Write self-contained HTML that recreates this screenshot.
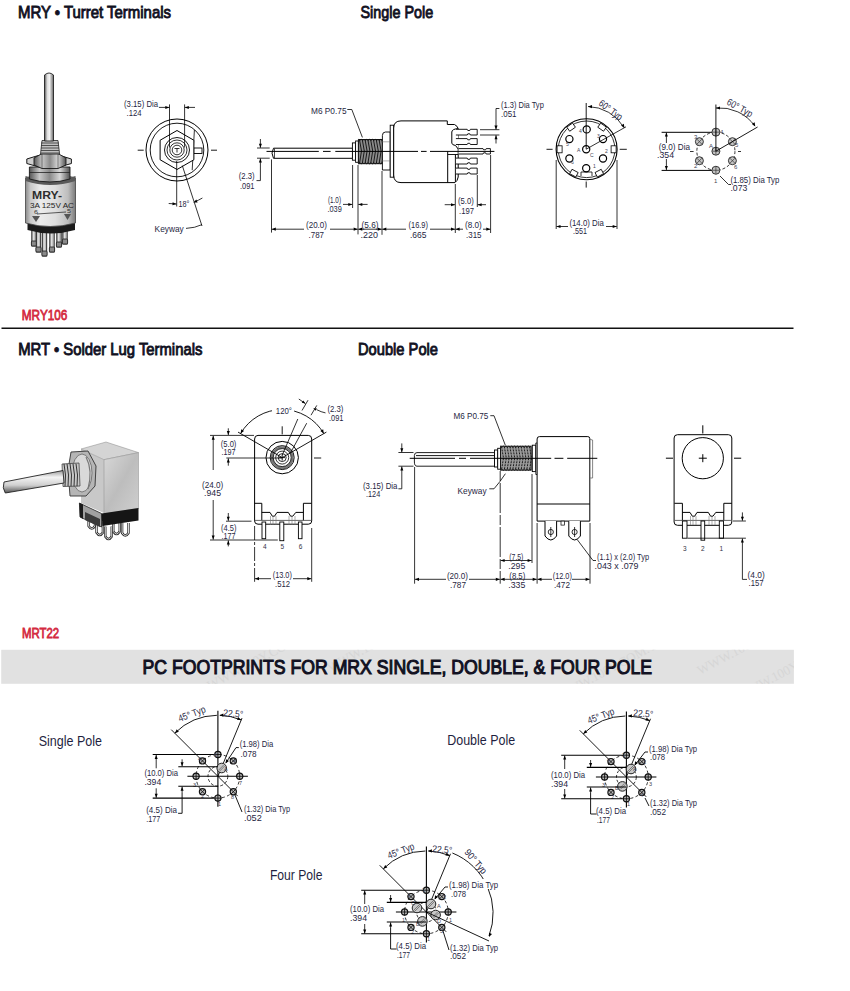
<!DOCTYPE html>
<html><head><meta charset="utf-8"><style>
html,body{margin:0;padding:0;background:#fff;width:850px;height:991px;overflow:hidden}
svg{display:block;font-family:"Liberation Sans",sans-serif}
</style></head><body>
<svg width="850" height="991" viewBox="0 0 850 991">
<defs>
<linearGradient id="cyl" x1="0" x2="1" y1="0" y2="0">
<stop offset="0" stop-color="#8a8a8a"/><stop offset="0.1" stop-color="#c8c8c8"/><stop offset="0.3" stop-color="#ececec"/><stop offset="0.6" stop-color="#dedede"/><stop offset="0.85" stop-color="#bdbdbd"/><stop offset="1" stop-color="#7a7a7a"/>
</linearGradient>
<linearGradient id="shaft" x1="0" x2="1" y1="0" y2="0">
<stop offset="0" stop-color="#555"/><stop offset="0.3" stop-color="#ddd"/><stop offset="0.55" stop-color="#f4f4f4"/><stop offset="1" stop-color="#666"/>
</linearGradient>
<linearGradient id="nut" x1="0" x2="1" y1="0" y2="0">
<stop offset="0" stop-color="#555"/><stop offset="0.25" stop-color="#c8c8c8"/><stop offset="0.5" stop-color="#8a8a8a"/><stop offset="0.75" stop-color="#d8d8d8"/><stop offset="1" stop-color="#505050"/>
</linearGradient>
<linearGradient id="box" x1="0" x2="1" y1="0" y2="1">
<stop offset="0" stop-color="#d8d8d8"/><stop offset="0.5" stop-color="#bdbdbd"/><stop offset="1" stop-color="#cfcfcf"/>
</linearGradient>
<linearGradient id="shaft2" x1="0" x2="0" y1="0" y2="1">
<stop offset="0" stop-color="#999"/><stop offset="0.3" stop-color="#f4f4f4"/><stop offset="0.65" stop-color="#d0d0d0"/><stop offset="1" stop-color="#555"/>
</linearGradient>
</defs>
<rect x="31.8" y="230" width="4.4" height="16" rx="0" stroke="#1a1a1a" stroke-width="0.9" fill="#bdbdbd"/>
<line x1="33.7" y1="230" x2="33.7" y2="245" stroke="#f0f0f0" stroke-width="0.8"/>
<rect x="31.4" y="241" width="5.2" height="5" rx="1" stroke="#1a1a1a" stroke-width="0.8" fill="#8a8a8a"/>
<rect x="36.3" y="230" width="4.4" height="22" rx="0" stroke="#1a1a1a" stroke-width="0.9" fill="#bdbdbd"/>
<line x1="38.2" y1="230" x2="38.2" y2="251" stroke="#f0f0f0" stroke-width="0.8"/>
<rect x="35.9" y="247" width="5.2" height="5" rx="1" stroke="#1a1a1a" stroke-width="0.8" fill="#8a8a8a"/>
<rect x="42.3" y="230" width="4.4" height="26" rx="0" stroke="#1a1a1a" stroke-width="0.9" fill="#bdbdbd"/>
<line x1="44.2" y1="230" x2="44.2" y2="255" stroke="#f0f0f0" stroke-width="0.8"/>
<rect x="41.9" y="251" width="5.2" height="5" rx="1" stroke="#1a1a1a" stroke-width="0.8" fill="#8a8a8a"/>
<rect x="49.8" y="230" width="4.4" height="22" rx="0" stroke="#1a1a1a" stroke-width="0.9" fill="#bdbdbd"/>
<line x1="51.7" y1="230" x2="51.7" y2="251" stroke="#f0f0f0" stroke-width="0.8"/>
<rect x="49.4" y="247" width="5.2" height="5" rx="1" stroke="#1a1a1a" stroke-width="0.8" fill="#8a8a8a"/>
<rect x="56.8" y="230" width="4.4" height="17" rx="0" stroke="#1a1a1a" stroke-width="0.9" fill="#bdbdbd"/>
<line x1="58.7" y1="230" x2="58.7" y2="246" stroke="#f0f0f0" stroke-width="0.8"/>
<rect x="56.4" y="242" width="5.2" height="5" rx="1" stroke="#1a1a1a" stroke-width="0.8" fill="#8a8a8a"/>
<rect x="62.8" y="229" width="4.4" height="15" rx="0" stroke="#1a1a1a" stroke-width="0.9" fill="#bdbdbd"/>
<line x1="64.7" y1="229" x2="64.7" y2="243" stroke="#f0f0f0" stroke-width="0.8"/>
<rect x="62.4" y="239" width="5.2" height="5" rx="1" stroke="#1a1a1a" stroke-width="0.8" fill="#8a8a8a"/>
<path d="M27.5,221 L75,221 L75,230 Q51,237 27.5,230 Z" fill="#1a1a1a"/>
<path d="M25.5,178 Q50,170 75.5,178 L75.5,223 Q50,230 25.5,223 Z" fill="url(#cyl)" stroke="#444" stroke-width="0.8"/>
<path d="M25.5,176 Q50,184 75.5,176 L75.5,181 Q50,189 25.5,181 Z" fill="#5a5a5a"/>
<text x="32" y="198.5" font-size="10.5" font-weight="bold" fill="#2e2e2e" text-anchor="start" textLength="30" lengthAdjust="spacingAndGlyphs">MRY-</text>
<text x="30" y="207.5" font-size="6.5" font-weight="normal" fill="#1e1e1e" text-anchor="start" textLength="44" lengthAdjust="spacingAndGlyphs">3A 125V AC</text>
<text x="34" y="214" font-size="6" font-weight="normal" fill="#333" text-anchor="start" textLength="4" lengthAdjust="spacingAndGlyphs">6</text>
<text x="67" y="213" font-size="6" font-weight="normal" fill="#333" text-anchor="start" textLength="4" lengthAdjust="spacingAndGlyphs">5</text>
<line x1="37" y1="214" x2="66" y2="212" stroke="#333" stroke-width="0.8"/>
<path d="M32,216 L40,216 L36,222 Z" fill="#555"/><path d="M64,214 L71,214 L67.5,220 Z" fill="#555"/>
<path d="M29.4,167 L70,167 L70,179 Q50,185 29.4,179 Z" fill="url(#nut)" stroke="#1a1a1a" stroke-width="0.9"/>
<line x1="29.4" y1="172.5" x2="70" y2="172.5" stroke="#222" stroke-width="0.8"/>
<path d="M26.8,159 Q49,150 71.4,159 L71.4,163.5 Q49,172 26.8,163.5 Z" fill="#cfcfcf" stroke="#1a1a1a" stroke-width="1"/>
<path d="M34,158 L42,153.6 L58,153.6 L66,158 L66,165 L58,168.5 L42,168.5 L34,165 Z" fill="url(#nut)" stroke="#1a1a1a" stroke-width="0.9"/>
<line x1="42" y1="153.8" x2="42" y2="168.3" stroke="#333" stroke-width="0.6"/>
<line x1="58" y1="153.8" x2="58" y2="168.3" stroke="#333" stroke-width="0.6"/>
<path d="M42,140.5 L58,140.5 L59.6,154 L40.5,154 Z" fill="#c0c0c0" stroke="#222" stroke-width="0.8"/>
<line x1="41" y1="143" x2="59" y2="143" stroke="#333" stroke-width="0.8"/>
<line x1="41" y1="145.5" x2="59" y2="145.5" stroke="#333" stroke-width="0.8"/>
<line x1="41" y1="148" x2="59" y2="148" stroke="#333" stroke-width="0.8"/>
<line x1="41" y1="150.5" x2="59" y2="150.5" stroke="#333" stroke-width="0.8"/>
<line x1="41" y1="153" x2="59" y2="153" stroke="#333" stroke-width="0.8"/>
<path d="M44.5,75 Q49,71 53.5,75 L53.5,141 L44.5,141 Z" fill="url(#shaft)" stroke="#222" stroke-width="0.9"/>
<circle cx="177" cy="150" r="31" stroke="#000" stroke-width="1" fill="none"/>
<circle cx="177" cy="150" r="26.8" stroke="#000" stroke-width="0.9" fill="none"/>
<rect x="193.7" y="148" width="8.3" height="5.5" rx="0" stroke="#000" stroke-width="0.9" fill="#fff"/>
<path d="M194.4,130 L192.2,170.2" stroke="#000" stroke-width="0.8" fill="none"/>
<path d="M177.00,130.50 L160.11,140.25 L160.11,159.75 L177.00,169.50 L193.89,159.75 L193.89,140.25 Z" stroke="#000" stroke-width="1" fill="#fff"/>
<circle cx="177" cy="150" r="12.5" stroke="#000" stroke-width="0.9" fill="none"/>
<circle cx="177" cy="150" r="10" stroke="#000" stroke-width="0.8" fill="none"/>
<circle cx="177" cy="150" r="7.2" stroke="#000" stroke-width="0.8" fill="none"/>
<circle cx="177" cy="150" r="4.8" stroke="#000" stroke-width="0.8" fill="none"/>
<path d="M174.5,148.5 L179.5,148.5 M177,148.5 L177,152.5" stroke="#000" stroke-width="0.8" fill="none"/>
<line x1="137.7" y1="150.2" x2="143.7" y2="150.2" stroke="#000" stroke-width="0.9"/>
<line x1="211" y1="150.2" x2="217" y2="150.2" stroke="#000" stroke-width="0.9"/>
<line x1="169.5" y1="104.4" x2="169.5" y2="147.5" stroke="#000" stroke-width="0.8"/>
<line x1="184.6" y1="104.4" x2="184.6" y2="147.5" stroke="#000" stroke-width="0.8"/>
<line x1="158.9" y1="107.4" x2="169.3" y2="107.4" stroke="#000" stroke-width="0.8"/>
<path d="M169.30,107.40 L165.30,108.90 L165.30,105.90 Z" fill="#000"/>
<line x1="195" y1="107.4" x2="184.8" y2="107.4" stroke="#000" stroke-width="0.8"/>
<path d="M184.80,107.40 L188.80,105.90 L188.80,108.90 Z" fill="#000"/>
<text x="124" y="107.4" font-size="9.8" font-weight="normal" fill="#1f1f3f" text-anchor="start" textLength="34" lengthAdjust="spacingAndGlyphs">(3.15) Dia</text>
<text x="126.5" y="115.7" font-size="9.8" font-weight="normal" fill="#1f1f3f" text-anchor="start" textLength="15" lengthAdjust="spacingAndGlyphs">.124</text>
<line x1="176.7" y1="161" x2="176.7" y2="206.5" stroke="#000" stroke-width="0.8"/>
<line x1="182.3" y1="165.6" x2="202" y2="226" stroke="#000" stroke-width="0.8"/>
<line x1="168.7" y1="203.5" x2="176.5" y2="204" stroke="#000" stroke-width="0.8"/>
<path d="M176.50,204.00 L172.41,205.24 L172.60,202.25 Z" fill="#000"/>
<text x="178.5" y="207" font-size="9" font-weight="normal" fill="#1f1f3f" text-anchor="start" textLength="11" lengthAdjust="spacingAndGlyphs">18°</text>
<path d="M202.4,198 Q198,200.5 195.5,201.5" stroke="#000" stroke-width="0.8" fill="none"/>
<path d="M193.30,202.60 L196.33,199.54 L197.61,202.48 Z" fill="#000"/>
<text x="154.6" y="232.2" font-size="9.8" font-weight="normal" fill="#1f1f3f" text-anchor="start" textLength="29.2" lengthAdjust="spacingAndGlyphs">Keyway</text>
<path d="M186,228.4 Q195,228 202,224.6" stroke="#000" stroke-width="0.8" fill="none"/>
<path d="M273.5,148.2 L352.6,148.2 L352.6,158.3 L273.5,158.3 Q270.5,153 273.5,148.2 Z" stroke="#000" stroke-width="1" fill="#fff"/>
<line x1="274.5" y1="148.7" x2="274.5" y2="158" stroke="#000" stroke-width="0.7"/>
<rect x="352.4" y="142.9" width="3.2" height="17.3" rx="0" stroke="#000" stroke-width="0.9" fill="#fff"/>
<rect x="355.6" y="141" width="2.8" height="21.3" rx="0" stroke="#000" stroke-width="0.9" fill="#fff"/>
<path d="M358.4,139.5 L383.5,139.5 L383.5,163.7 L358.4,163.7 Z" fill="#8a8a8a" stroke="#111" stroke-width="1"/>
<path d="M359.5,139.8 L361.5,151 L359.5,163.4" stroke="#1a1a1a" stroke-width="1" fill="none"/>
<path d="M362.3,139.8 L364.3,151 L362.3,163.4" stroke="#1a1a1a" stroke-width="1" fill="none"/>
<path d="M365.1,139.8 L367.1,151 L365.1,163.4" stroke="#1a1a1a" stroke-width="1" fill="none"/>
<path d="M367.9,139.8 L369.9,151 L367.9,163.4" stroke="#1a1a1a" stroke-width="1" fill="none"/>
<path d="M370.7,139.8 L372.7,151 L370.7,163.4" stroke="#1a1a1a" stroke-width="1" fill="none"/>
<path d="M373.5,139.8 L375.5,151 L373.5,163.4" stroke="#1a1a1a" stroke-width="1" fill="none"/>
<path d="M376.3,139.8 L378.3,151 L376.3,163.4" stroke="#1a1a1a" stroke-width="1" fill="none"/>
<path d="M379.1,139.8 L381.1,151 L379.1,163.4" stroke="#1a1a1a" stroke-width="1" fill="none"/>
<path d="M381.9,139.8 L383.9,151 L381.9,163.4" stroke="#1a1a1a" stroke-width="1" fill="none"/>
<path d="M358.4,139.3 L358.4,139.3 L359.8,140.6 L361.2,139.3 L362.6,140.6 L364.0,139.3 L365.4,140.6 L366.8,139.3 L368.2,140.6 L369.6,139.3 L371.0,140.6 L372.4,139.3 L373.8,140.6 L375.2,139.3 L376.6,140.6 L378.0,139.3 L379.4,140.6 L380.8,139.3 L382.2,140.6 L383.6,139.3" stroke="#111" stroke-width="0.8" fill="none"/>
<path d="M358.4,163.9 L358.4,163.9 L359.8,162.6 L361.2,163.9 L362.6,162.6 L364.0,163.9 L365.4,162.6 L366.8,163.9 L368.2,162.6 L369.6,163.9 L371.0,162.6 L372.4,163.9 L373.8,162.6 L375.2,163.9 L376.6,162.6 L378.0,163.9 L379.4,162.6 L380.8,163.9 L382.2,162.6 L383.6,163.9" stroke="#111" stroke-width="0.8" fill="none"/>
<path d="M385.5,132 L390.2,132 L390.2,170 L382.4,170 L382.4,135.5 Q382.4,132 385.5,132 Z" stroke="#000" stroke-width="0.9" fill="#fff"/>
<line x1="382.6" y1="141.8" x2="390" y2="141.8" stroke="#999" stroke-width="0.8"/>
<line x1="382.6" y1="160.9" x2="390" y2="160.9" stroke="#999" stroke-width="0.8"/>
<rect x="390.2" y="125.2" width="3.5" height="52" rx="0" stroke="#000" stroke-width="0.9" fill="#fff"/>
<path d="M401,120.9 L447.3,120.9 L447.3,124.5 L454.5,124.5 Q457.5,126 458.2,128.6 L458.2,177 Q457.5,181 455,182.6 L401,182.6 Q393.7,182.6 393.7,175 L393.7,128 Q393.7,120.9 401,120.9 Z" stroke="#000" stroke-width="1" fill="#fff"/>
<line x1="447.7" y1="151.3" x2="447.7" y2="182.6" stroke="#000" stroke-width="1"/>
<line x1="455.4" y1="154.5" x2="455.4" y2="182" stroke="#000" stroke-width="1"/>
<line x1="447.7" y1="154.5" x2="458" y2="154.5" stroke="#000" stroke-width="0.9"/>
<path d="M458.2,128.6 Q452,129 451.8,132 L451.8,143.1 Q452,145 455.5,145.5 L458.6,149.5" stroke="#000" stroke-width="1" fill="#fff"/>
<path d="M455.9,129.3 L467.2,129.3 L467.8,130.5 L469.8,130.5 L470.4,129.3 L477.2,129.3 L477.2,135 L470.4,135 L469.8,133.8 L467.8,133.8 L467.2,135 L455.9,135" stroke="#000" stroke-width="0.9" fill="#fff"/>
<path d="M455.9,138.6 L467.2,138.6 L467.8,139.79999999999998 L469.8,139.79999999999998 L470.4,138.6 L477.2,138.6 L477.2,144.5 L470.4,144.5 L469.8,143.3 L467.8,143.3 L467.2,144.5 L455.9,144.5" stroke="#000" stroke-width="0.9" fill="#fff"/>
<path d="M455.9,158.1 L467.2,158.1 L467.8,159.29999999999998 L469.8,159.29999999999998 L470.4,158.1 L477.2,158.1 L477.2,164 L470.4,164 L469.8,162.8 L467.8,162.8 L467.2,164 L455.9,164" stroke="#000" stroke-width="0.9" fill="#fff"/>
<path d="M455.9,168.1 L467.2,168.1 L467.8,169.29999999999998 L469.8,169.29999999999998 L470.4,168.1 L477.2,168.1 L477.2,174 L470.4,174 L469.8,172.8 L467.8,172.8 L467.2,174 L455.9,174" stroke="#000" stroke-width="0.9" fill="#fff"/>
<path d="M458.6,148.6 L483,148.6 L483.6,149.79999999999998 L485.6,149.79999999999998 L486.2,148.6 L490.4,148.6 L490.4,154 L486.2,154 L485.6,152.8 L483.6,152.8 L483,154 L458.6,154" stroke="#000" stroke-width="0.9" fill="#fff"/>
<line x1="266.5" y1="151.4" x2="318.8" y2="151.4" stroke="#000" stroke-width="1"/>
<line x1="323" y1="151.4" x2="330.6" y2="151.4" stroke="#000" stroke-width="1"/>
<line x1="335.3" y1="151.4" x2="418" y2="151.4" stroke="#000" stroke-width="1"/>
<line x1="421" y1="151.4" x2="426.6" y2="151.4" stroke="#000" stroke-width="1"/>
<line x1="430" y1="151.4" x2="494.4" y2="151.4" stroke="#000" stroke-width="1"/>
<line x1="257" y1="148" x2="269.7" y2="148" stroke="#000" stroke-width="0.8"/>
<line x1="257" y1="158.2" x2="269.7" y2="158.2" stroke="#000" stroke-width="0.8"/>
<line x1="260.4" y1="139" x2="260.4" y2="147.8" stroke="#000" stroke-width="0.8"/>
<path d="M260.40,147.80 L258.90,143.80 L261.90,143.80 Z" fill="#000"/>
<line x1="260.4" y1="172" x2="260.4" y2="158.4" stroke="#000" stroke-width="0.8"/>
<path d="M260.40,158.40 L261.90,162.40 L258.90,162.40 Z" fill="#000"/>
<path d="M260.4,172 L260.4,180.6 L256.5,180.6" stroke="#000" stroke-width="0.8" fill="none"/>
<text x="238.8" y="178.8" font-size="9.8" font-weight="normal" fill="#1f1f3f" text-anchor="start" textLength="15.9" lengthAdjust="spacingAndGlyphs">(2.3)</text>
<text x="240" y="188.5" font-size="9.8" font-weight="normal" fill="#1f1f3f" text-anchor="start" textLength="14.5" lengthAdjust="spacingAndGlyphs">.091</text>
<line x1="271.5" y1="159.4" x2="271.5" y2="232.6" stroke="#000" stroke-width="0.8"/>
<line x1="352.6" y1="165" x2="352.6" y2="208" stroke="#000" stroke-width="0.8"/>
<line x1="358" y1="165" x2="358" y2="234.4" stroke="#000" stroke-width="0.8"/>
<line x1="382" y1="171" x2="382" y2="234.8" stroke="#000" stroke-width="0.8"/>
<line x1="455.3" y1="184" x2="455.3" y2="233" stroke="#000" stroke-width="0.8"/>
<line x1="477.3" y1="175" x2="477.3" y2="207" stroke="#000" stroke-width="0.8"/>
<line x1="490.6" y1="155" x2="490.6" y2="233" stroke="#000" stroke-width="0.8"/>
<line x1="343" y1="204.4" x2="352.3" y2="204.4" stroke="#000" stroke-width="0.8"/>
<path d="M352.30,204.40 L348.30,205.90 L348.30,202.90 Z" fill="#000"/>
<line x1="367.6" y1="204.4" x2="358.3" y2="204.4" stroke="#000" stroke-width="0.8"/>
<path d="M358.30,204.40 L362.30,202.90 L362.30,205.90 Z" fill="#000"/>
<text x="328" y="203" font-size="9.8" font-weight="normal" fill="#1f1f3f" text-anchor="start" textLength="13" lengthAdjust="spacingAndGlyphs">(1.0)</text>
<text x="327.5" y="212.4" font-size="9.8" font-weight="normal" fill="#1f1f3f" text-anchor="start" textLength="14.3" lengthAdjust="spacingAndGlyphs">.039</text>
<line x1="271.8" y1="229.2" x2="304" y2="229.2" stroke="#000" stroke-width="0.8"/>
<line x1="330" y1="229.2" x2="357.7" y2="229.2" stroke="#000" stroke-width="0.8"/>
<path d="M271.80,229.20 L275.80,227.60 L275.80,230.80 Z" fill="#000"/>
<path d="M357.70,229.20 L353.70,230.80 L353.70,227.60 Z" fill="#000"/>
<line x1="358.3" y1="229.2" x2="358.3" y2="229.2" stroke="#000" stroke-width="0.8"/>
<line x1="358.3" y1="229.2" x2="381.7" y2="229.2" stroke="#000" stroke-width="0.8"/>
<path d="M358.30,229.20 L362.30,227.60 L362.30,230.80 Z" fill="#000"/>
<path d="M381.70,229.20 L377.70,230.80 L377.70,227.60 Z" fill="#000"/>
<line x1="382.3" y1="229.2" x2="406" y2="229.2" stroke="#000" stroke-width="0.8"/>
<line x1="430" y1="229.2" x2="455" y2="229.2" stroke="#000" stroke-width="0.8"/>
<path d="M382.30,229.20 L386.30,227.60 L386.30,230.80 Z" fill="#000"/>
<path d="M455.00,229.20 L451.00,230.80 L451.00,227.60 Z" fill="#000"/>
<line x1="455.6" y1="229.2" x2="463" y2="229.2" stroke="#000" stroke-width="0.8"/>
<line x1="483" y1="229.2" x2="490.3" y2="229.2" stroke="#000" stroke-width="0.8"/>
<path d="M455.60,229.20 L459.60,227.60 L459.60,230.80 Z" fill="#000"/>
<path d="M490.30,229.20 L486.30,230.80 L486.30,227.60 Z" fill="#000"/>
<text x="306" y="228" font-size="9.8" font-weight="normal" fill="#1f1f3f" text-anchor="start" textLength="21" lengthAdjust="spacingAndGlyphs">(20.0)</text>
<text x="308.5" y="238" font-size="9.8" font-weight="normal" fill="#1f1f3f" text-anchor="start" textLength="15.5" lengthAdjust="spacingAndGlyphs">.787</text>
<text x="361.5" y="228" font-size="9.8" font-weight="normal" fill="#1f1f3f" text-anchor="start" textLength="17" lengthAdjust="spacingAndGlyphs">(5.6)</text>
<text x="360.5" y="238" font-size="9.8" font-weight="normal" fill="#1f1f3f" text-anchor="start" textLength="17.5" lengthAdjust="spacingAndGlyphs">.220</text>
<text x="408.5" y="227.6" font-size="9.8" font-weight="normal" fill="#1f1f3f" text-anchor="start" textLength="19.5" lengthAdjust="spacingAndGlyphs">(16.9)</text>
<text x="410" y="238" font-size="9.8" font-weight="normal" fill="#1f1f3f" text-anchor="start" textLength="16.5" lengthAdjust="spacingAndGlyphs">.665</text>
<text x="465" y="227.6" font-size="9.8" font-weight="normal" fill="#1f1f3f" text-anchor="start" textLength="16.8" lengthAdjust="spacingAndGlyphs">(8.0)</text>
<text x="466" y="238" font-size="9.8" font-weight="normal" fill="#1f1f3f" text-anchor="start" textLength="15.5" lengthAdjust="spacingAndGlyphs">.315</text>
<line x1="444.7" y1="204.7" x2="455" y2="204.7" stroke="#000" stroke-width="0.8"/>
<path d="M455.00,204.70 L451.00,206.20 L451.00,203.20 Z" fill="#000"/>
<line x1="486" y1="204.7" x2="477.6" y2="204.7" stroke="#000" stroke-width="0.8"/>
<path d="M477.60,204.70 L481.60,203.20 L481.60,206.20 Z" fill="#000"/>
<text x="458" y="203.8" font-size="9.8" font-weight="normal" fill="#1f1f3f" text-anchor="start" textLength="15.8" lengthAdjust="spacingAndGlyphs">(5.0)</text>
<text x="459" y="213.5" font-size="9.8" font-weight="normal" fill="#1f1f3f" text-anchor="start" textLength="15" lengthAdjust="spacingAndGlyphs">.197</text>
<line x1="480" y1="129.7" x2="499.4" y2="129.7" stroke="#000" stroke-width="0.8"/>
<line x1="480" y1="135" x2="499.4" y2="135" stroke="#000" stroke-width="0.8"/>
<path d="M499.4,108.5 L496,108.5 L496,129.5" stroke="#000" stroke-width="0.8" fill="none"/>
<path d="M496.00,129.50 L494.40,125.50 L497.60,125.50 Z" fill="#000"/>
<line x1="496" y1="143.5" x2="496" y2="135.2" stroke="#000" stroke-width="0.8"/>
<path d="M496.00,135.20 L497.50,139.20 L494.50,139.20 Z" fill="#000"/>
<text x="501" y="108" font-size="9.8" font-weight="normal" fill="#1f1f3f" text-anchor="start" textLength="42.8" lengthAdjust="spacingAndGlyphs">(1.3) Dia Typ</text>
<text x="501" y="117" font-size="9.8" font-weight="normal" fill="#1f1f3f" text-anchor="start" textLength="15.5" lengthAdjust="spacingAndGlyphs">.051</text>
<text x="311" y="113.5" font-size="9.8" font-weight="normal" fill="#1f1f3f" text-anchor="start" textLength="35.5" lengthAdjust="spacingAndGlyphs">M6 P0.75</text>
<path d="M347.3,109.5 L351.8,109.5 L362.4,137.4" stroke="#000" stroke-width="0.8" fill="none"/>
<circle cx="586.6" cy="149.3" r="30.5" stroke="#000" stroke-width="1.1" fill="none"/>
<circle cx="586.6" cy="149.3" r="28.3" stroke="#000" stroke-width="0.8" fill="none"/>
<rect x="567.61" y="124.68" width="7" height="5" fill="#fff" stroke="#000" stroke-width="0.8" transform="rotate(-35 571.11 127.18)"/>
<rect x="598.59" y="124.68" width="7" height="5" fill="#fff" stroke="#000" stroke-width="0.8" transform="rotate(35 602.09 127.18)"/>
<rect x="556.10" y="146.80" width="7" height="5" fill="#fff" stroke="#000" stroke-width="0.8" transform="rotate(-90 559.60 149.30)"/>
<rect x="610.10" y="146.80" width="7" height="5" fill="#fff" stroke="#000" stroke-width="0.8" transform="rotate(90 613.60 149.30)"/>
<rect x="570.42" y="170.64" width="7" height="5" fill="#fff" stroke="#000" stroke-width="0.8" transform="rotate(-152 573.92 173.14)"/>
<rect x="595.78" y="170.64" width="7" height="5" fill="#fff" stroke="#000" stroke-width="0.8" transform="rotate(152 599.28 173.14)"/>
<circle cx="586.7" cy="129.4" r="3.6" stroke="#000" stroke-width="1.2" fill="#fff"/>
<circle cx="569.4" cy="139.1" r="3.6" stroke="#000" stroke-width="1.2" fill="#fff"/>
<circle cx="603" cy="139.1" r="3.6" stroke="#000" stroke-width="1.2" fill="#fff"/>
<circle cx="569.4" cy="158.5" r="3.6" stroke="#000" stroke-width="1.2" fill="#fff"/>
<circle cx="603" cy="158.5" r="3.6" stroke="#000" stroke-width="1.2" fill="#fff"/>
<circle cx="586.2" cy="168.2" r="3.6" stroke="#000" stroke-width="1.2" fill="#fff"/>
<circle cx="586.2" cy="149.2" r="3.6" stroke="#000" stroke-width="1.2" fill="#fff"/>
<path d="M581,176 L581,172 L592,172 L592,176" stroke="#000" stroke-width="0.8" fill="none"/>
<text x="579" y="133" font-size="5" font-weight="normal" fill="#445" text-anchor="start">4</text>
<text x="566" y="146" font-size="5" font-weight="normal" fill="#445" text-anchor="start">5</text>
<text x="597" y="138" font-size="5" font-weight="normal" fill="#445" text-anchor="start">3</text>
<text x="605" y="153" font-size="5" font-weight="normal" fill="#445" text-anchor="start">2</text>
<text x="571" y="164" font-size="5" font-weight="normal" fill="#445" text-anchor="start">6</text>
<text x="593" y="168" font-size="5" font-weight="normal" fill="#445" text-anchor="start">1</text>
<text x="577" y="152" font-size="5" font-weight="normal" fill="#445" text-anchor="start">A</text>
<text x="590" y="157" font-size="5" font-weight="normal" fill="#445" text-anchor="start">C</text>
<line x1="586.2" y1="103" x2="586.2" y2="149.2" stroke="#000" stroke-width="0.9"/>
<line x1="586.2" y1="149.2" x2="626" y2="126.8" stroke="#000" stroke-width="0.8"/>
<path d="M588,106.5 A43,43 0 0 1 624,127.6" stroke="#000" stroke-width="0.8" fill="none"/>
<path d="M588.00,106.50 L592.07,105.10 L591.92,108.30 Z" fill="#000"/>
<path d="M624.50,128.00 L621.07,125.39 L623.81,123.75 Z" fill="#000"/>
<text x="598" y="104.5" font-size="9.8" font-weight="normal" fill="#1f1f3f" text-anchor="start" textLength="27" lengthAdjust="spacingAndGlyphs" transform="rotate(37 598 104.5)">60° Typ</text>
<line x1="546.5" y1="149.3" x2="552.6" y2="149.3" stroke="#000" stroke-width="0.9"/>
<line x1="619.7" y1="149.3" x2="626.8" y2="149.3" stroke="#000" stroke-width="0.9"/>
<line x1="586.2" y1="181.5" x2="586.2" y2="187.6" stroke="#000" stroke-width="0.9"/>
<line x1="556.2" y1="160" x2="556.2" y2="229" stroke="#000" stroke-width="0.8"/>
<line x1="617" y1="160" x2="617" y2="229" stroke="#000" stroke-width="0.8"/>
<line x1="556.5" y1="226.5" x2="568" y2="226.5" stroke="#000" stroke-width="0.8"/>
<line x1="606" y1="226.5" x2="616.7" y2="226.5" stroke="#000" stroke-width="0.8"/>
<path d="M556.50,226.50 L560.50,224.90 L560.50,228.10 Z" fill="#000"/>
<path d="M616.70,226.50 L612.70,228.10 L612.70,224.90 Z" fill="#000"/>
<text x="569.4" y="225.6" font-size="9.8" font-weight="normal" fill="#1f1f3f" text-anchor="start" textLength="34.4" lengthAdjust="spacingAndGlyphs">(14.0) Dia</text>
<text x="573" y="234.4" font-size="9.8" font-weight="normal" fill="#1f1f3f" text-anchor="start" textLength="14" lengthAdjust="spacingAndGlyphs">.551</text>
<circle cx="715.9" cy="151.2" r="19.05" fill="none" stroke="#000" stroke-width="0.8" stroke-dasharray="3,2"/>
<line x1="661.6" y1="132.3" x2="715.9" y2="132.3" stroke="#000" stroke-width="1"/>
<line x1="661.6" y1="170.4" x2="715.9" y2="170.4" stroke="#000" stroke-width="1"/>
<circle cx="715.90" cy="132.15" r="4" fill="#c4c4c4" stroke="#222" stroke-width="0.9"/>
<path d="M712.40,132.15 L719.40,132.15 M715.90,128.65 L715.90,135.65" stroke="#333" stroke-width="0.7" fill="none"/>
<circle cx="732.40" cy="141.67" r="4" fill="#c4c4c4" stroke="#222" stroke-width="0.9"/>
<path d="M729.80,139.07 L735.00,144.27 M729.80,144.27 L735.00,139.07" stroke="#333" stroke-width="0.7" fill="none"/>
<circle cx="732.40" cy="160.72" r="4" fill="#c4c4c4" stroke="#222" stroke-width="0.9"/>
<path d="M729.80,158.12 L735.00,163.32 M729.80,163.32 L735.00,158.12" stroke="#333" stroke-width="0.7" fill="none"/>
<circle cx="715.90" cy="170.25" r="4" fill="#c4c4c4" stroke="#222" stroke-width="0.9"/>
<path d="M712.40,170.25 L719.40,170.25 M715.90,166.75 L715.90,173.75" stroke="#333" stroke-width="0.7" fill="none"/>
<circle cx="699.40" cy="160.72" r="4" fill="#c4c4c4" stroke="#222" stroke-width="0.9"/>
<path d="M696.80,158.12 L702.00,163.32 M696.80,163.32 L702.00,158.12" stroke="#333" stroke-width="0.7" fill="none"/>
<circle cx="699.40" cy="141.67" r="4" fill="#c4c4c4" stroke="#222" stroke-width="0.9"/>
<path d="M696.80,139.07 L702.00,144.27 M696.80,144.27 L702.00,139.07" stroke="#333" stroke-width="0.7" fill="none"/>
<circle cx="715.90" cy="151.20" r="4" fill="#c4c4c4" stroke="#222" stroke-width="0.9"/>
<path d="M712.40,151.20 L719.40,151.20 M715.90,147.70 L715.90,154.70" stroke="#333" stroke-width="0.7" fill="none"/>
<text x="720" y="134" font-size="6" font-weight="normal" fill="#445" text-anchor="start">4</text>
<text x="735" y="147" font-size="6" font-weight="normal" fill="#445" text-anchor="start">5</text>
<text x="734" y="169" font-size="6" font-weight="normal" fill="#445" text-anchor="start">6</text>
<text x="714" y="183" font-size="6" font-weight="normal" fill="#445" text-anchor="start">1</text>
<text x="694" y="168" font-size="6" font-weight="normal" fill="#445" text-anchor="start">2</text>
<text x="694" y="139" font-size="6" font-weight="normal" fill="#445" text-anchor="start">3</text>
<text x="709" y="148" font-size="6" font-weight="normal" fill="#445" text-anchor="start">A</text>
<line x1="715.9" y1="104.5" x2="715.9" y2="151.2" stroke="#000" stroke-width="0.9"/>
<line x1="715.9" y1="151.2" x2="757.6" y2="127" stroke="#000" stroke-width="0.9"/>
<path d="M716,108 A43,43 0 0 1 754.8,126" stroke="#000" stroke-width="0.8" fill="none"/>
<path d="M716.00,108.00 L720.00,106.40 L720.00,109.60 Z" fill="#000"/>
<path d="M755.30,126.60 L751.87,123.99 L754.61,122.35 Z" fill="#000"/>
<text x="726" y="104" font-size="9.8" font-weight="normal" fill="#1f1f3f" text-anchor="start" textLength="28" lengthAdjust="spacingAndGlyphs" transform="rotate(29 726 104)">60° Typ</text>
<line x1="666.4" y1="143" x2="666.4" y2="132.6" stroke="#000" stroke-width="0.8"/>
<path d="M666.40,132.60 L667.90,136.60 L664.90,136.60 Z" fill="#000"/>
<line x1="666.4" y1="159" x2="666.4" y2="170.1" stroke="#000" stroke-width="0.8"/>
<path d="M666.40,170.10 L664.90,166.10 L667.90,166.10 Z" fill="#000"/>
<text x="658.8" y="149.6" font-size="9.8" font-weight="normal" fill="#1f1f3f" text-anchor="start" textLength="31.2" lengthAdjust="spacingAndGlyphs">(9.0) Dia</text>
<text x="657" y="158" font-size="9.8" font-weight="normal" fill="#1f1f3f" text-anchor="start" textLength="17" lengthAdjust="spacingAndGlyphs">.354</text>
<line x1="690" y1="151.5" x2="693.6" y2="151.5" stroke="#000" stroke-width="0.8"/>
<line x1="738" y1="151.5" x2="741" y2="151.5" stroke="#000" stroke-width="0.8"/>
<text x="730.4" y="182.6" font-size="9.8" font-weight="normal" fill="#1f1f3f" text-anchor="start" textLength="49" lengthAdjust="spacingAndGlyphs">(1.85) Dia Typ</text>
<text x="730.4" y="191" font-size="9.8" font-weight="normal" fill="#1f1f3f" text-anchor="start" textLength="16.9" lengthAdjust="spacingAndGlyphs">.073</text>
<path d="M720,176 L728.5,184.5 L731,184.5" stroke="#000" stroke-width="0.8" fill="none"/>
<path d="M88.6,516 L88.6,526 Q91.8,531 95.0,526 L95.0,516" fill="none" stroke="#2a2a2a" stroke-width="2.4"/>
<path d="M88.6,516 L88.6,526 Q91.8,531 95.0,526 L95.0,516" fill="none" stroke="#d8d8d8" stroke-width="1"/>
<path d="M96.5,522.5 L96.5,532.5 Q99.7,537.5 102.9,532.5 L102.9,522.5" fill="none" stroke="#2a2a2a" stroke-width="2.4"/>
<path d="M96.5,522.5 L96.5,532.5 Q99.7,537.5 102.9,532.5 L102.9,522.5" fill="none" stroke="#d8d8d8" stroke-width="1"/>
<path d="M105.3,526.5 L105.3,536.5 Q108.5,541.5 111.7,536.5 L111.7,526.5" fill="none" stroke="#2a2a2a" stroke-width="2.4"/>
<path d="M105.3,526.5 L105.3,536.5 Q108.5,541.5 111.7,536.5 L111.7,526.5" fill="none" stroke="#d8d8d8" stroke-width="1"/>
<path d="M113.3,521.5 L113.3,531.5 Q116.5,536.5 119.7,531.5 L119.7,521.5" fill="none" stroke="#2a2a2a" stroke-width="2.4"/>
<path d="M113.3,521.5 L113.3,531.5 Q116.5,536.5 119.7,531.5 L119.7,521.5" fill="none" stroke="#d8d8d8" stroke-width="1"/>
<path d="M122.1,523 L122.1,533 Q125.3,538 128.5,533 L128.5,523" fill="none" stroke="#2a2a2a" stroke-width="2.4"/>
<path d="M122.1,523 L122.1,533 Q125.3,538 128.5,533 L128.5,523" fill="none" stroke="#d8d8d8" stroke-width="1"/>
<path d="M81,449 L104,459.7 L104,513 L81,503 Z" fill="#c8c8c8"/>
<path d="M79.4,503 L101.5,513.5 L101.5,527 L80,517 Z" fill="#a0a0a0" stroke="#222" stroke-width="0.8"/>
<path d="M79.4,503 L83,504.5 L83,519 L80,517 Z" fill="#1a1a1a"/>
<path d="M85,512 L100,519 L100,527 L85,520 Z" fill="#3a3a3a"/>
<path d="M81,449 L106,442 L138.5,452.6 L104,459.7 Z" fill="#d4d4d4" stroke="#888" stroke-width="0.5"/>
<path d="M104,459.7 L138.5,452.6 L138.5,508.5 L104,514 Z" fill="url(#box)" stroke="#999" stroke-width="0.6"/>
<path d="M101.5,513.5 L138.5,508 L138.5,520.6 L102.4,526 Z" fill="#151515"/>
<path d="M71,452 L88,451 L96,466 L95,486 L86,496 L70,496 L68,470 Z" fill="#b5b5b5" stroke="#333" stroke-width="0.9"/>
<ellipse cx="82" cy="473" rx="10" ry="19" fill="#d9d9d9" stroke="#555" stroke-width="0.7"/>
<path d="M86,457 Q93,470 88,489" fill="none" stroke="#777" stroke-width="1.2"/>
<path d="M62,464 L79,463 L80,486 L63,486.5 Z" fill="#c8c8c8" stroke="#333" stroke-width="0.7"/>
<path d="M64,463.8 Q66.5,475 65,486.3" stroke="#333" stroke-width="1" fill="none"/>
<path d="M67,463.8 Q69.5,475 68,486.3" stroke="#333" stroke-width="1" fill="none"/>
<path d="M70,463.8 Q72.5,475 71,486.3" stroke="#333" stroke-width="1" fill="none"/>
<path d="M73,463.8 Q75.5,475 74,486.3" stroke="#333" stroke-width="1" fill="none"/>
<path d="M76,463.8 Q78.5,475 77,486.3" stroke="#333" stroke-width="1" fill="none"/>
<path d="M4,482 L63,470.5 L64,483 L5.3,493 Q2,488 4,482 Z" fill="url(#shaft2)" stroke="#222" stroke-width="0.9"/>
<path d="M258,435.4 L308.3,435.4 Q311.7,435.4 311.7,439 L311.7,521 Q311.7,524.2 308.3,524.2 L258,524.2 Q254.6,524.2 254.6,521 L254.6,439 Q254.6,435.4 258,435.4 Z" stroke="#000" stroke-width="1" fill="#fff"/>
<path d="M254.6,503.3 L261.8,503.3 L261.8,520.4 M311.5,503.3 L303.4,503.3 L303.4,520.4" stroke="#000" stroke-width="1" fill="none"/>
<path d="M261.8,512.4 L270,512.4 L272.3,516.2 L274.5,516.2 L277,512.4 L288.3,512.4 L290.6,516.2 L292.8,516.2 L295.8,512.4 L303.4,512.4" stroke="#000" stroke-width="1" fill="none"/>
<line x1="254.6" y1="520.4" x2="311.5" y2="520.4" stroke="#555" stroke-width="0.9"/>
<path d="M270.5,516 L270.5,525 M273,516 L273,525 M276,516 L276,525 M289,516 L289,525 M292,516 L292,525 M295,516 L295,525" stroke="#777" stroke-width="0.6" fill="none"/>
<rect x="262" y="522" width="3.6999999999999886" height="16.700000000000045" rx="0" stroke="#000" stroke-width="0.9" fill="#fff"/>
<rect x="279.8" y="522" width="4.0" height="18.700000000000045" rx="0" stroke="#000" stroke-width="0.9" fill="#fff"/>
<rect x="298.4" y="522" width="3.6000000000000227" height="16.700000000000045" rx="0" stroke="#000" stroke-width="0.9" fill="#fff"/>
<text x="263" y="549" font-size="6.5" font-weight="normal" fill="#334" text-anchor="start">4</text>
<text x="280.5" y="549" font-size="6.5" font-weight="normal" fill="#334" text-anchor="start">5</text>
<text x="298.7" y="549" font-size="6.5" font-weight="normal" fill="#334" text-anchor="start">6</text>
<circle cx="282.2" cy="457.6" r="16.2" stroke="#000" stroke-width="1" fill="none"/>
<circle cx="282.2" cy="457.6" r="10.3" fill="none" stroke="#777" stroke-width="2.2"/>
<circle cx="282.2" cy="457.6" r="12" stroke="#000" stroke-width="0.9" fill="none"/>
<circle cx="282.2" cy="457.6" r="9" stroke="#000" stroke-width="0.8" fill="none"/>
<circle cx="282.2" cy="457.6" r="6.5" stroke="#000" stroke-width="0.8" fill="none"/>
<circle cx="282.2" cy="457.6" r="4" stroke="#000" stroke-width="0.8" fill="none"/>
<line x1="279.2" y1="457.6" x2="285.2" y2="457.6" stroke="#000" stroke-width="0.9"/>
<line x1="282.2" y1="454.6" x2="282.2" y2="460.6" stroke="#000" stroke-width="0.9"/>
<line x1="282.2" y1="457.6" x2="238.0" y2="432.1" stroke="#000" stroke-width="0.9"/>
<line x1="282.2" y1="457.6" x2="326.4" y2="432.1" stroke="#000" stroke-width="0.9"/>
<path d="M240.63,433.60 A48,48 0 0 1 323.77,433.60" stroke="#000" stroke-width="0.9" fill="none"/>
<path d="M240.63,433.60 L241.24,429.33 L244.01,430.93 Z" fill="#000"/>
<path d="M323.77,433.60 L320.39,430.93 L323.16,429.33 Z" fill="#000"/>
<rect x="272" y="404" width="22" height="12" fill="#fff"/>
<text x="275.8" y="414.2" font-size="9.8" font-weight="normal" fill="#1f1f3f" text-anchor="start" textLength="16.2" lengthAdjust="spacingAndGlyphs">120°</text>
<line x1="282.2" y1="455.2" x2="297.8" y2="419" stroke="#000" stroke-width="0.8"/>
<line x1="290.2" y1="453.4" x2="306.7" y2="423.2" stroke="#000" stroke-width="0.8"/>
<line x1="302" y1="410.5" x2="308" y2="400.2" stroke="#000" stroke-width="0.8"/>
<line x1="311" y1="415.2" x2="316.8" y2="405.4" stroke="#000" stroke-width="0.8"/>
<line x1="298.8" y1="399" x2="305.4" y2="403.6" stroke="#000" stroke-width="0.8"/>
<path d="M305.40,403.60 L301.79,402.67 L303.27,400.53 Z" fill="#000"/>
<path d="M325.5,412.9 Q321,412 317,409.8" stroke="#000" stroke-width="0.8" fill="none"/>
<path d="M313.20,408.20 L316.93,408.45 L315.86,410.82 Z" fill="#000"/>
<text x="327.4" y="412.4" font-size="9.8" font-weight="normal" fill="#1f1f3f" text-anchor="start" textLength="16" lengthAdjust="spacingAndGlyphs">(2.3)</text>
<text x="329" y="421" font-size="9.8" font-weight="normal" fill="#1f1f3f" text-anchor="start" textLength="14.4" lengthAdjust="spacingAndGlyphs">.091</text>
<line x1="282.2" y1="426.3" x2="282.2" y2="434.4" stroke="#000" stroke-width="0.9"/>
<line x1="314" y1="458" x2="321.2" y2="458" stroke="#000" stroke-width="0.9"/>
<line x1="210" y1="435.4" x2="254" y2="435.4" stroke="#000" stroke-width="0.8"/>
<line x1="226.3" y1="458" x2="282.2" y2="458" stroke="#000" stroke-width="0.8"/>
<line x1="210" y1="540" x2="277.8" y2="540" stroke="#000" stroke-width="0.8"/>
<line x1="226" y1="521.2" x2="251.5" y2="521.2" stroke="#000" stroke-width="0.8"/>
<line x1="213.2" y1="470" x2="213.2" y2="435.8" stroke="#000" stroke-width="0.8"/>
<path d="M213.20,435.80 L214.70,439.80 L211.70,439.80 Z" fill="#000"/>
<line x1="213.2" y1="500" x2="213.2" y2="539.6" stroke="#000" stroke-width="0.8"/>
<path d="M213.20,539.60 L211.70,535.60 L214.70,535.60 Z" fill="#000"/>
<line x1="228.3" y1="428.3" x2="228.3" y2="435" stroke="#000" stroke-width="0.8"/>
<path d="M228.30,435.00 L226.80,431.00 L229.80,431.00 Z" fill="#000"/>
<line x1="228.3" y1="465.7" x2="228.3" y2="458.4" stroke="#000" stroke-width="0.8"/>
<path d="M228.30,458.40 L229.80,462.40 L226.80,462.40 Z" fill="#000"/>
<line x1="228.3" y1="513" x2="228.3" y2="520.8" stroke="#000" stroke-width="0.8"/>
<path d="M228.30,520.80 L226.80,516.80 L229.80,516.80 Z" fill="#000"/>
<line x1="228.3" y1="546.4" x2="228.3" y2="540.4" stroke="#000" stroke-width="0.8"/>
<path d="M228.30,540.40 L229.80,544.40 L226.80,544.40 Z" fill="#000"/>
<text x="220.8" y="446.5" font-size="9.8" font-weight="normal" fill="#1f1f3f" text-anchor="start" textLength="15.6" lengthAdjust="spacingAndGlyphs">(5.0)</text>
<text x="221.5" y="455.2" font-size="9.8" font-weight="normal" fill="#1f1f3f" text-anchor="start" textLength="14" lengthAdjust="spacingAndGlyphs">.197</text>
<text x="202" y="487.9" font-size="9.8" font-weight="normal" fill="#1f1f3f" text-anchor="start" textLength="21.3" lengthAdjust="spacingAndGlyphs">(24.0)</text>
<text x="204" y="496" font-size="9.8" font-weight="normal" fill="#1f1f3f" text-anchor="start" textLength="17" lengthAdjust="spacingAndGlyphs">.945</text>
<text x="221" y="531.3" font-size="9.8" font-weight="normal" fill="#1f1f3f" text-anchor="start" textLength="15.4" lengthAdjust="spacingAndGlyphs">(4.5)</text>
<text x="221.5" y="539.4" font-size="9.8" font-weight="normal" fill="#1f1f3f" text-anchor="start" textLength="14" lengthAdjust="spacingAndGlyphs">.177</text>
<line x1="254.6" y1="526" x2="254.6" y2="581.8" stroke="#000" stroke-width="0.8" stroke-dasharray="14,2,3,2"/>
<line x1="311.7" y1="528" x2="311.7" y2="581.8" stroke="#000" stroke-width="0.8"/>
<line x1="255" y1="578.7" x2="271" y2="578.7" stroke="#000" stroke-width="0.8"/>
<line x1="293" y1="578.7" x2="311.3" y2="578.7" stroke="#000" stroke-width="0.8"/>
<path d="M255.00,578.70 L259.00,577.10 L259.00,580.30 Z" fill="#000"/>
<path d="M311.30,578.70 L307.30,580.30 L307.30,577.10 Z" fill="#000"/>
<text x="272.7" y="577.7" font-size="9.8" font-weight="normal" fill="#1f1f3f" text-anchor="start" textLength="19.2" lengthAdjust="spacingAndGlyphs">(13.0)</text>
<text x="275" y="586.8" font-size="9.8" font-weight="normal" fill="#1f1f3f" text-anchor="start" textLength="15" lengthAdjust="spacingAndGlyphs">.512</text>
<path d="M417,452.6 L494.5,452.6 L494.5,466.2 L417,466.2 Q414.4,466.2 414.4,462 L414.4,455.5 Q414.4,452.6 417,452.6 Z" stroke="#222" stroke-width="1" fill="#fff"/>
<line x1="416" y1="455.6" x2="494.5" y2="455.6" stroke="#000" stroke-width="0.9"/>
<rect x="494.5" y="450" width="3.2" height="17" rx="0" stroke="#000" stroke-width="0.9" fill="#fff"/>
<rect x="497.7" y="448.3" width="2.8" height="20.9" rx="0" stroke="#000" stroke-width="0.9" fill="#fff"/>
<path d="M500.5,446.2 L531.2,446.2 L531.2,470.2 L500.5,470.2 Z" fill="#9a9a9a" stroke="#111" stroke-width="0.9"/>
<path d="M501.5,446.5 L503.5,458 L501.5,470" stroke="#1a1a1a" stroke-width="1" fill="none" stroke-dasharray="2,1"/>
<path d="M504.3,446.5 L506.3,458 L504.3,470" stroke="#1a1a1a" stroke-width="1" fill="none" stroke-dasharray="2,1"/>
<path d="M507.1,446.5 L509.1,458 L507.1,470" stroke="#1a1a1a" stroke-width="1" fill="none" stroke-dasharray="2,1"/>
<path d="M509.9,446.5 L511.9,458 L509.9,470" stroke="#1a1a1a" stroke-width="1" fill="none" stroke-dasharray="2,1"/>
<path d="M512.7,446.5 L514.7,458 L512.7,470" stroke="#1a1a1a" stroke-width="1" fill="none" stroke-dasharray="2,1"/>
<path d="M515.5,446.5 L517.5,458 L515.5,470" stroke="#1a1a1a" stroke-width="1" fill="none" stroke-dasharray="2,1"/>
<path d="M518.3,446.5 L520.3,458 L518.3,470" stroke="#1a1a1a" stroke-width="1" fill="none" stroke-dasharray="2,1"/>
<path d="M521.1,446.5 L523.1,458 L521.1,470" stroke="#1a1a1a" stroke-width="1" fill="none" stroke-dasharray="2,1"/>
<path d="M523.9,446.5 L525.9,458 L523.9,470" stroke="#1a1a1a" stroke-width="1" fill="none" stroke-dasharray="2,1"/>
<path d="M526.7,446.5 L528.7,458 L526.7,470" stroke="#1a1a1a" stroke-width="1" fill="none" stroke-dasharray="2,1"/>
<path d="M529.5,446.5 L531.5,458 L529.5,470" stroke="#1a1a1a" stroke-width="1" fill="none" stroke-dasharray="2,1"/>
<path d="M500.5,446 L500.5,446 L501.9,447.3 L503.3,446 L504.7,447.3 L506.1,446 L507.5,447.3 L508.9,446 L510.3,447.3 L511.7,446 L513.1,447.3 L514.5,446 L515.9,447.3 L517.3,446 L518.7,447.3 L520.1,446 L521.5,447.3 L522.9,446 L524.3,447.3 L525.7,446 L527.1,447.3 L528.5,446 L529.9,447.3 L531.3,446" stroke="#111" stroke-width="0.8" fill="none"/>
<path d="M500.5,470.4 L500.5,470.4 L501.9,469.1 L503.3,470.4 L504.7,469.1 L506.1,470.4 L507.5,469.1 L508.9,470.4 L510.3,469.1 L511.7,470.4 L513.1,469.1 L514.5,470.4 L515.9,469.1 L517.3,470.4 L518.7,469.1 L520.1,470.4 L521.5,469.1 L522.9,470.4 L524.3,469.1 L525.7,470.4 L527.1,469.1 L528.5,470.4 L529.9,469.1 L531.3,470.4" stroke="#111" stroke-width="0.8" fill="none"/>
<rect x="532.3" y="445.2" width="3.5" height="26.4" rx="0" stroke="#000" stroke-width="0.9" fill="#fff"/>
<path d="M535.8,443 L537.6,443 L537.6,474.5 L535.8,474.5 Z" stroke="#000" stroke-width="0.8" fill="#fff"/>
<path d="M539.5,436.6 L587.8,436.6 Q589.8,436.6 589.8,438.6 L589.8,521.1 L537.1,521.1 L537.1,439 Q537.1,436.6 539.5,436.6 Z" stroke="#000" stroke-width="1" fill="#fff"/>
<path d="M590.2,439.4 L592.6,440 L592.6,478 L590.2,478" stroke="#666" stroke-width="0.8" fill="none"/>
<line x1="537.1" y1="504" x2="589.8" y2="504" stroke="#000" stroke-width="1"/>
<line x1="409.7" y1="458.3" x2="455" y2="458.3" stroke="#000" stroke-width="1"/>
<line x1="459" y1="458.3" x2="466" y2="458.3" stroke="#000" stroke-width="1"/>
<line x1="470" y1="458.3" x2="551.2" y2="458.3" stroke="#000" stroke-width="1"/>
<line x1="554.5" y1="458.3" x2="563.4" y2="458.3" stroke="#000" stroke-width="1"/>
<line x1="567.2" y1="458.3" x2="597.3" y2="458.3" stroke="#000" stroke-width="1"/>
<path d="M545,521.1 L545,536 Q550.8,544 556.6,536 L556.6,521.1" stroke="#000" stroke-width="1" fill="#fff"/>
<circle cx="550.8" cy="532" r="2.6" stroke="#000" stroke-width="0.8" fill="none"/>
<line x1="550.8" y1="527" x2="550.8" y2="537" stroke="#000" stroke-width="0.8"/>
<path d="M568.8,521.1 L568.8,536 Q574.5999999999999,544 580.4,536 L580.4,521.1" stroke="#000" stroke-width="1" fill="#fff"/>
<circle cx="574.5999999999999" cy="532" r="2.6" stroke="#000" stroke-width="0.8" fill="none"/>
<line x1="574.5999999999999" y1="527" x2="574.5999999999999" y2="537" stroke="#000" stroke-width="0.8"/>
<rect x="561" y="521.1" width="3.5" height="4" rx="0" stroke="#000" stroke-width="0.7" fill="#fff"/>
<line x1="398.4" y1="452.5" x2="413.5" y2="452.5" stroke="#000" stroke-width="0.8"/>
<line x1="398.4" y1="466.2" x2="413.5" y2="466.2" stroke="#000" stroke-width="0.8"/>
<line x1="401.8" y1="443.4" x2="401.8" y2="452.2" stroke="#000" stroke-width="0.8"/>
<path d="M401.80,452.20 L400.30,448.20 L403.30,448.20 Z" fill="#000"/>
<line x1="401.8" y1="475" x2="401.8" y2="466.5" stroke="#000" stroke-width="0.8"/>
<path d="M401.80,466.50 L403.30,470.50 L400.30,470.50 Z" fill="#000"/>
<path d="M401.8,475 L401.8,488.8 L398.4,488.8" stroke="#000" stroke-width="0.8" fill="none"/>
<text x="363" y="488.8" font-size="9.8" font-weight="normal" fill="#1f1f3f" text-anchor="start" textLength="34.4" lengthAdjust="spacingAndGlyphs">(3.15) Dia</text>
<text x="366" y="497" font-size="9.8" font-weight="normal" fill="#1f1f3f" text-anchor="start" textLength="14.2" lengthAdjust="spacingAndGlyphs">.124</text>
<line x1="414.6" y1="467" x2="414.6" y2="583.7" stroke="#000" stroke-width="0.8"/>
<line x1="500.2" y1="471" x2="500.2" y2="583.7" stroke="#000" stroke-width="0.8" stroke-dasharray="10,2,30,2"/>
<line x1="532" y1="474" x2="532" y2="563" stroke="#000" stroke-width="0.8"/>
<line x1="537.1" y1="523" x2="537.1" y2="583.7" stroke="#000" stroke-width="0.8"/>
<line x1="590" y1="523" x2="590" y2="583.7" stroke="#000" stroke-width="0.8"/>
<line x1="415" y1="579.3" x2="446" y2="579.3" stroke="#000" stroke-width="0.8"/>
<line x1="469" y1="579.3" x2="499.8" y2="579.3" stroke="#000" stroke-width="0.8"/>
<path d="M415.00,579.30 L419.00,577.70 L419.00,580.90 Z" fill="#000"/>
<path d="M499.80,579.30 L495.80,580.90 L495.80,577.70 Z" fill="#000"/>
<text x="446.9" y="578.7" font-size="9.8" font-weight="normal" fill="#1f1f3f" text-anchor="start" textLength="21.1" lengthAdjust="spacingAndGlyphs">(20.0)</text>
<text x="450" y="587.8" font-size="9.8" font-weight="normal" fill="#1f1f3f" text-anchor="start" textLength="16" lengthAdjust="spacingAndGlyphs">.787</text>
<line x1="500.6" y1="560.5" x2="531.6" y2="560.5" stroke="#000" stroke-width="0.8"/>
<path d="M500.60,560.50 L504.60,558.90 L504.60,562.10 Z" fill="#000"/>
<path d="M531.60,560.50 L527.60,562.10 L527.60,558.90 Z" fill="#000"/>
<text x="509.3" y="559.5" font-size="9.8" font-weight="normal" fill="#1f1f3f" text-anchor="start" textLength="14.1" lengthAdjust="spacingAndGlyphs">(7.5)</text>
<text x="508.3" y="568.6" font-size="9.8" font-weight="normal" fill="#1f1f3f" text-anchor="start" textLength="17.1" lengthAdjust="spacingAndGlyphs">.295</text>
<line x1="500.6" y1="579.3" x2="536.7" y2="579.3" stroke="#000" stroke-width="0.8"/>
<path d="M500.60,579.30 L504.60,577.70 L504.60,580.90 Z" fill="#000"/>
<path d="M536.70,579.30 L532.70,580.90 L532.70,577.70 Z" fill="#000"/>
<text x="509.3" y="578.7" font-size="9.8" font-weight="normal" fill="#1f1f3f" text-anchor="start" textLength="16" lengthAdjust="spacingAndGlyphs">(8.5)</text>
<text x="508.3" y="587.8" font-size="9.8" font-weight="normal" fill="#1f1f3f" text-anchor="start" textLength="17.1" lengthAdjust="spacingAndGlyphs">.335</text>
<line x1="537.5" y1="579.3" x2="552" y2="579.3" stroke="#000" stroke-width="0.8"/>
<line x1="572" y1="579.3" x2="589.6" y2="579.3" stroke="#000" stroke-width="0.8"/>
<path d="M537.50,579.30 L541.50,577.70 L541.50,580.90 Z" fill="#000"/>
<path d="M589.60,579.30 L585.60,580.90 L585.60,577.70 Z" fill="#000"/>
<text x="552.7" y="578.7" font-size="9.8" font-weight="normal" fill="#1f1f3f" text-anchor="start" textLength="19.2" lengthAdjust="spacingAndGlyphs">(12.0)</text>
<text x="554" y="587.8" font-size="9.8" font-weight="normal" fill="#1f1f3f" text-anchor="start" textLength="16" lengthAdjust="spacingAndGlyphs">.472</text>
<text x="453.5" y="419.2" font-size="9.8" font-weight="normal" fill="#1f1f3f" text-anchor="start" textLength="34.8" lengthAdjust="spacingAndGlyphs">M6 P0.75</text>
<path d="M490.3,415.7 L494,415.7 L505.4,445.4" stroke="#000" stroke-width="0.8" fill="none"/>
<text x="457.6" y="494" font-size="9.8" font-weight="normal" fill="#1f1f3f" text-anchor="start" textLength="29" lengthAdjust="spacingAndGlyphs">Keyway</text>
<path d="M489.3,488.8 L494,488.8 Q500,482 505.4,473.7" stroke="#000" stroke-width="0.8" fill="none"/>
<path d="M577,539.3 L593,560.5 L596,560.5" stroke="#000" stroke-width="0.8" fill="none"/>
<text x="597" y="559.5" font-size="9.8" font-weight="normal" fill="#1f1f3f" text-anchor="start" textLength="52" lengthAdjust="spacingAndGlyphs">(1.1) x (2.0) Typ</text>
<text x="594.5" y="568.6" font-size="9.8" font-weight="normal" fill="#1f1f3f" text-anchor="start" textLength="44" lengthAdjust="spacingAndGlyphs">.043 x .079</text>
<path d="M677.5,434.7 L728.4,434.7 Q731.8,434.7 731.8,438 L731.8,522 Q731.8,525.3 728.4,525.3 L677.5,525.3 Q674.1,525.3 674.1,522 L674.1,438 Q674.1,434.7 677.5,434.7 Z" stroke="#000" stroke-width="1" fill="#fff"/>
<circle cx="702.8" cy="458.2" r="20.6" stroke="#000" stroke-width="1" fill="none"/>
<line x1="698.8" y1="458.2" x2="706.8" y2="458.2" stroke="#000" stroke-width="1"/>
<line x1="702.8" y1="454.2" x2="702.8" y2="462.2" stroke="#000" stroke-width="1"/>
<line x1="702.8" y1="425.3" x2="702.8" y2="433.5" stroke="#000" stroke-width="1"/>
<line x1="665.9" y1="458.2" x2="673" y2="458.2" stroke="#000" stroke-width="1"/>
<line x1="734" y1="458.2" x2="741.2" y2="458.2" stroke="#000" stroke-width="1"/>
<path d="M674.4,503.3 L682.4,503.3 L682.4,520.4 M731.8,503.3 L723.8,503.3 L723.8,520.4" stroke="#000" stroke-width="1" fill="none"/>
<path d="M682.4,512.4 L690,512.4 L692.3,516.2 L694.7,516.2 L697,512.4 L708.3,512.4 L710.6,516.2 L713,516.2 L715.8,512.4 L723.8,512.4" stroke="#000" stroke-width="1" fill="none"/>
<line x1="674.4" y1="520.4" x2="731.8" y2="520.4" stroke="#555" stroke-width="0.9"/>
<path d="M690.5,516 L690.5,525 M693,516 L693,525 M696,516 L696,525 M709,516 L709,525 M712,516 L712,525 M715,516 L715,525" stroke="#777" stroke-width="0.6" fill="none"/>
<rect x="682.4" y="521" width="4.600000000000023" height="17.200000000000045" rx="0" stroke="#000" stroke-width="0.9" fill="#fff"/>
<rect x="701" y="521" width="3.7000000000000455" height="19.200000000000045" rx="0" stroke="#000" stroke-width="0.9" fill="#fff"/>
<rect x="719.3" y="521" width="4.2000000000000455" height="17.200000000000045" rx="0" stroke="#000" stroke-width="0.9" fill="#fff"/>
<text x="683" y="551" font-size="6.5" font-weight="normal" fill="#334" text-anchor="start">3</text>
<text x="701" y="551" font-size="6.5" font-weight="normal" fill="#334" text-anchor="start">2</text>
<text x="719.5" y="551" font-size="6.5" font-weight="normal" fill="#334" text-anchor="start">1</text>
<line x1="733" y1="521" x2="745.9" y2="521" stroke="#000" stroke-width="0.8"/>
<line x1="687.5" y1="538.2" x2="745.9" y2="538.2" stroke="#000" stroke-width="0.8"/>
<line x1="742.4" y1="512.4" x2="742.4" y2="520.7" stroke="#000" stroke-width="0.8"/>
<path d="M742.40,520.70 L740.90,516.70 L743.90,516.70 Z" fill="#000"/>
<line x1="742.4" y1="552" x2="742.4" y2="538.5" stroke="#000" stroke-width="0.8"/>
<path d="M742.40,538.50 L743.90,542.50 L740.90,542.50 Z" fill="#000"/>
<path d="M742.4,552 L742.4,579.4 L747,579.4" stroke="#000" stroke-width="0.8" fill="none"/>
<text x="747.5" y="577.5" font-size="9.8" font-weight="normal" fill="#1f1f3f" text-anchor="start" textLength="17.2" lengthAdjust="spacingAndGlyphs">(4.0)</text>
<text x="748.5" y="586" font-size="9.8" font-weight="normal" fill="#1f1f3f" text-anchor="start" textLength="15" lengthAdjust="spacingAndGlyphs">.157</text>
<circle cx="217.9" cy="776.3" r="21.8" fill="none" stroke="#000" stroke-width="0.8" stroke-dasharray="3,2.4"/>
<circle cx="217.9" cy="776.3" r="9.9" fill="none" stroke="#000" stroke-width="0.8" stroke-dasharray="3,2"/>
<line x1="217.9" y1="710.6999999999999" x2="217.9" y2="806.8" stroke="#000" stroke-width="1.1"/>
<line x1="187.4" y1="776.3" x2="247.9" y2="776.3" stroke="#000" stroke-width="1.1"/>
<line x1="171.23095244168786" y1="729.6309524416878" x2="237.69898987322333" y2="796.0989898732233" stroke="#000" stroke-width="0.9"/>
<line x1="217.9" y1="776.3" x2="242.00905623900067" y2="718.0955894517889" stroke="#000" stroke-width="0.9"/>
<path d="M174.77,733.17 A61,61 0 0 1 216.90,715.30" fill="none" stroke="#000" stroke-width="0.9"/>
<path d="M174.77,733.17 L176.71,729.32 L178.83,731.73 Z" fill="#000"/>
<path d="M219.90,715.30 A61,61 0 0 1 241.24,719.94" fill="none" stroke="#000" stroke-width="0.9"/>
<path d="M219.40,715.30 L223.37,713.62 L223.43,716.82 Z" fill="#000"/>
<path d="M241.24,719.94 L236.94,719.86 L238.18,716.91 Z" fill="#000"/>
<circle cx="217.90" cy="754.50" r="3.1" fill="#bbb" stroke="#111" stroke-width="1.2"/>
<path d="M214.30,754.50 L221.50,754.50 M217.90,750.90 L217.90,758.10" stroke="#111" stroke-width="0.9" fill="none"/>
<circle cx="233.31" cy="760.89" r="3.1" fill="#bbb" stroke="#111" stroke-width="1.2"/>
<path d="M230.71,758.29 L235.91,763.49 M230.71,763.49 L235.91,758.29" stroke="#111" stroke-width="0.9" fill="none"/>
<circle cx="239.70" cy="776.30" r="3.1" fill="#bbb" stroke="#111" stroke-width="1.2"/>
<path d="M236.10,776.30 L243.30,776.30 M239.70,772.70 L239.70,779.90" stroke="#111" stroke-width="0.9" fill="none"/>
<circle cx="233.31" cy="791.71" r="3.1" fill="#bbb" stroke="#111" stroke-width="1.2"/>
<path d="M230.71,789.11 L235.91,794.31 M230.71,794.31 L235.91,789.11" stroke="#111" stroke-width="0.9" fill="none"/>
<circle cx="217.90" cy="798.10" r="3.1" fill="#bbb" stroke="#111" stroke-width="1.2"/>
<path d="M214.30,798.10 L221.50,798.10 M217.90,794.50 L217.90,801.70" stroke="#111" stroke-width="0.9" fill="none"/>
<circle cx="202.49" cy="791.71" r="3.1" fill="#bbb" stroke="#111" stroke-width="1.2"/>
<path d="M199.89,789.11 L205.09,794.31 M199.89,794.31 L205.09,789.11" stroke="#111" stroke-width="0.9" fill="none"/>
<circle cx="196.10" cy="776.30" r="3.1" fill="#bbb" stroke="#111" stroke-width="1.2"/>
<path d="M192.50,776.30 L199.70,776.30 M196.10,772.70 L196.10,779.90" stroke="#111" stroke-width="0.9" fill="none"/>
<circle cx="202.49" cy="760.89" r="3.1" fill="#bbb" stroke="#111" stroke-width="1.2"/>
<path d="M199.89,758.29 L205.09,763.49 M199.89,763.49 L205.09,758.29" stroke="#111" stroke-width="0.9" fill="none"/>
<circle cx="221.70" cy="768.00" r="4.8" fill="#c8c8c8" stroke="#222" stroke-width="1"/>
<path d="M218.70,770.00 L223.70,765.00 M219.70,771.00 L224.70,766.00" stroke="#444" stroke-width="0.6" fill="none"/>
<text x="214" y="757" font-size="5.5" font-weight="normal" fill="#445" text-anchor="start">5</text>
<text x="198" y="761" font-size="5.5" font-weight="normal" fill="#445" text-anchor="start">4</text>
<text x="233" y="764" font-size="5.5" font-weight="normal" fill="#445" text-anchor="start">5</text>
<text x="193" y="787" font-size="5.5" font-weight="normal" fill="#445" text-anchor="start">3</text>
<text x="239" y="785" font-size="5.5" font-weight="normal" fill="#445" text-anchor="start">7</text>
<text x="201" y="798" font-size="5.5" font-weight="normal" fill="#445" text-anchor="start">2</text>
<text x="218" y="806" font-size="5.5" font-weight="normal" fill="#445" text-anchor="start">1</text>
<text x="231" y="799" font-size="5.5" font-weight="normal" fill="#445" text-anchor="start">8</text>
<text x="224" y="771" font-size="5.5" font-weight="normal" fill="#445" text-anchor="start">A</text>
<line x1="152.7" y1="754.5" x2="213.9" y2="754.5" stroke="#000" stroke-width="1.1"/>
<line x1="152.7" y1="798.0999999999999" x2="213.9" y2="798.0999999999999" stroke="#000" stroke-width="1.1"/>
<line x1="178.3" y1="766.6999999999999" x2="217.9" y2="766.6999999999999" stroke="#000" stroke-width="1.1"/>
<line x1="178.3" y1="786.3" x2="217.9" y2="786.3" stroke="#000" stroke-width="1.1"/>
<line x1="156.2" y1="768.3" x2="156.2" y2="754.9" stroke="#000" stroke-width="0.8"/>
<path d="M156.20,754.90 L157.70,758.90 L154.70,758.90 Z" fill="#000"/>
<line x1="156.2" y1="788.3" x2="156.2" y2="797.6999999999999" stroke="#000" stroke-width="0.8"/>
<path d="M156.20,797.70 L154.70,793.70 L157.70,793.70 Z" fill="#000"/>
<line x1="182.10000000000002" y1="759.3" x2="182.10000000000002" y2="766.3" stroke="#000" stroke-width="0.8"/>
<path d="M182.10,766.30 L180.60,762.30 L183.60,762.30 Z" fill="#000"/>
<line x1="182.10000000000002" y1="792.3" x2="182.10000000000002" y2="786.6999999999999" stroke="#000" stroke-width="0.8"/>
<path d="M182.10,786.70 L183.60,790.70 L180.60,790.70 Z" fill="#000"/>
<path d="M182.10000000000002,792.3 L182.10000000000002,813.3 L178.10000000000002,813.3" stroke="#000" stroke-width="0.9" fill="none"/>
<text x="179.7" y="722" font-size="9.8" font-weight="normal" fill="#1f1f3f" text-anchor="start" textLength="28.5" lengthAdjust="spacingAndGlyphs" transform="rotate(-21 179.7 722)">45° Typ</text>
<text x="223" y="716" font-size="9.8" font-weight="normal" fill="#1f1f3f" text-anchor="start" textLength="20" lengthAdjust="spacingAndGlyphs" transform="rotate(5 223 716)">22.5°</text>
<text x="144.4" y="775.9" font-size="9.8" font-weight="normal" fill="#1f1f3f" text-anchor="start" textLength="33.6" lengthAdjust="spacingAndGlyphs">(10.0) Dia</text>
<text x="144.4" y="784.7" font-size="9.8" font-weight="normal" fill="#1f1f3f" text-anchor="start" textLength="16.8" lengthAdjust="spacingAndGlyphs">.394</text>
<text x="146.2" y="813" font-size="9.8" font-weight="normal" fill="#1f1f3f" text-anchor="start" textLength="30.8" lengthAdjust="spacingAndGlyphs">(4.5) Dia</text>
<text x="146.2" y="821.8" font-size="9.8" font-weight="normal" fill="#1f1f3f" text-anchor="start" textLength="14.1" lengthAdjust="spacingAndGlyphs">.177</text>
<text x="239.7" y="746.8" font-size="9.8" font-weight="normal" fill="#1f1f3f" text-anchor="start" textLength="33.5" lengthAdjust="spacingAndGlyphs">(1.98) Dia</text>
<text x="240.6" y="756.5" font-size="9.8" font-weight="normal" fill="#1f1f3f" text-anchor="start" textLength="15.9" lengthAdjust="spacingAndGlyphs">.078</text>
<path d="M238.8,747.6 L236,747.6 L226,762.7" stroke="#000" stroke-width="0.9" fill="none"/>
<path d="M225.50,763.50 L226.19,759.25 L228.93,760.89 Z" fill="#000"/>
<text x="244" y="812" font-size="9.8" font-weight="normal" fill="#1f1f3f" text-anchor="start" textLength="46" lengthAdjust="spacingAndGlyphs">(1.32) Dia Typ</text>
<text x="244" y="820.9" font-size="9.8" font-weight="normal" fill="#1f1f3f" text-anchor="start" textLength="17.8" lengthAdjust="spacingAndGlyphs">.052</text>
<path d="M242,812 L235,795" stroke="#000" stroke-width="0.9" fill="none"/>
<circle cx="626.4" cy="777" r="21.8" fill="none" stroke="#000" stroke-width="0.8" stroke-dasharray="3,2.4"/>
<circle cx="626.4" cy="777" r="9.9" fill="none" stroke="#000" stroke-width="0.8" stroke-dasharray="3,2"/>
<line x1="626.4" y1="711.4" x2="626.4" y2="807.5" stroke="#000" stroke-width="1.1"/>
<line x1="595.9" y1="777" x2="656.4" y2="777" stroke="#000" stroke-width="1.1"/>
<line x1="579.7309524416878" y1="730.3309524416878" x2="646.1989898732234" y2="796.7989898732234" stroke="#000" stroke-width="0.9"/>
<line x1="626.4" y1="777" x2="650.5090562390006" y2="718.7955894517889" stroke="#000" stroke-width="0.9"/>
<path d="M583.27,733.87 A61,61 0 0 1 625.40,716.00" fill="none" stroke="#000" stroke-width="0.9"/>
<path d="M583.27,733.87 L585.21,730.02 L587.33,732.43 Z" fill="#000"/>
<path d="M628.40,716.00 A61,61 0 0 1 649.74,720.64" fill="none" stroke="#000" stroke-width="0.9"/>
<path d="M627.90,716.00 L631.87,714.32 L631.93,717.52 Z" fill="#000"/>
<path d="M649.74,720.64 L645.44,720.56 L646.68,717.61 Z" fill="#000"/>
<circle cx="626.40" cy="755.20" r="3.1" fill="#bbb" stroke="#111" stroke-width="1.2"/>
<path d="M622.80,755.20 L630.00,755.20 M626.40,751.60 L626.40,758.80" stroke="#111" stroke-width="0.9" fill="none"/>
<circle cx="641.81" cy="761.59" r="3.1" fill="#bbb" stroke="#111" stroke-width="1.2"/>
<path d="M639.21,758.99 L644.41,764.19 M639.21,764.19 L644.41,758.99" stroke="#111" stroke-width="0.9" fill="none"/>
<circle cx="648.20" cy="777.00" r="3.1" fill="#bbb" stroke="#111" stroke-width="1.2"/>
<path d="M644.60,777.00 L651.80,777.00 M648.20,773.40 L648.20,780.60" stroke="#111" stroke-width="0.9" fill="none"/>
<circle cx="641.81" cy="792.41" r="3.1" fill="#bbb" stroke="#111" stroke-width="1.2"/>
<path d="M639.21,789.81 L644.41,795.01 M639.21,795.01 L644.41,789.81" stroke="#111" stroke-width="0.9" fill="none"/>
<circle cx="626.40" cy="798.80" r="3.1" fill="#bbb" stroke="#111" stroke-width="1.2"/>
<path d="M622.80,798.80 L630.00,798.80 M626.40,795.20 L626.40,802.40" stroke="#111" stroke-width="0.9" fill="none"/>
<circle cx="610.99" cy="792.41" r="3.1" fill="#bbb" stroke="#111" stroke-width="1.2"/>
<path d="M608.39,789.81 L613.59,795.01 M608.39,795.01 L613.59,789.81" stroke="#111" stroke-width="0.9" fill="none"/>
<circle cx="604.60" cy="777.00" r="3.1" fill="#bbb" stroke="#111" stroke-width="1.2"/>
<path d="M601.00,777.00 L608.20,777.00 M604.60,773.40 L604.60,780.60" stroke="#111" stroke-width="0.9" fill="none"/>
<circle cx="610.99" cy="761.59" r="3.1" fill="#bbb" stroke="#111" stroke-width="1.2"/>
<path d="M608.39,758.99 L613.59,764.19 M608.39,764.19 L613.59,758.99" stroke="#111" stroke-width="0.9" fill="none"/>
<circle cx="631.00" cy="769.00" r="4.8" fill="#c8c8c8" stroke="#222" stroke-width="1"/>
<path d="M628.00,771.00 L633.00,766.00 M629.00,772.00 L634.00,767.00" stroke="#444" stroke-width="0.6" fill="none"/>
<circle cx="622.40" cy="786.40" r="4.8" fill="#c8c8c8" stroke="#222" stroke-width="1"/>
<path d="M619.40,788.40 L624.40,783.40 M620.40,789.40 L625.40,784.40" stroke="#444" stroke-width="0.6" fill="none"/>
<text x="622" y="757" font-size="5.5" font-weight="normal" fill="#445" text-anchor="start">1</text>
<text x="607" y="762" font-size="5.5" font-weight="normal" fill="#445" text-anchor="start">4</text>
<text x="643" y="764" font-size="5.5" font-weight="normal" fill="#445" text-anchor="start">2</text>
<text x="602" y="787" font-size="5.5" font-weight="normal" fill="#445" text-anchor="start">3</text>
<text x="649" y="786" font-size="5.5" font-weight="normal" fill="#445" text-anchor="start">3</text>
<text x="611" y="799" font-size="5.5" font-weight="normal" fill="#445" text-anchor="start">2</text>
<text x="627" y="806" font-size="5.5" font-weight="normal" fill="#445" text-anchor="start">1</text>
<text x="640" y="797" font-size="5.5" font-weight="normal" fill="#445" text-anchor="start">4</text>
<text x="633" y="771" font-size="5.5" font-weight="normal" fill="#445" text-anchor="start">A</text>
<text x="615" y="790" font-size="5.5" font-weight="normal" fill="#445" text-anchor="start">B</text>
<line x1="561.1999999999999" y1="755.2" x2="622.4" y2="755.2" stroke="#000" stroke-width="1.1"/>
<line x1="561.1999999999999" y1="798.8" x2="622.4" y2="798.8" stroke="#000" stroke-width="1.1"/>
<line x1="586.8" y1="767.4" x2="626.4" y2="767.4" stroke="#000" stroke-width="1.1"/>
<line x1="586.8" y1="787" x2="626.4" y2="787" stroke="#000" stroke-width="1.1"/>
<line x1="564.6999999999999" y1="769" x2="564.6999999999999" y2="755.6" stroke="#000" stroke-width="0.8"/>
<path d="M564.70,755.60 L566.20,759.60 L563.20,759.60 Z" fill="#000"/>
<line x1="564.6999999999999" y1="789" x2="564.6999999999999" y2="798.4" stroke="#000" stroke-width="0.8"/>
<path d="M564.70,798.40 L563.20,794.40 L566.20,794.40 Z" fill="#000"/>
<line x1="590.6" y1="760" x2="590.6" y2="767" stroke="#000" stroke-width="0.8"/>
<path d="M590.60,767.00 L589.10,763.00 L592.10,763.00 Z" fill="#000"/>
<line x1="590.6" y1="793" x2="590.6" y2="787.4" stroke="#000" stroke-width="0.8"/>
<path d="M590.60,787.40 L592.10,791.40 L589.10,791.40 Z" fill="#000"/>
<path d="M590.6,793 L590.6,814 L596.6,814" stroke="#000" stroke-width="0.9" fill="none"/>
<text x="589" y="724" font-size="9.8" font-weight="normal" fill="#1f1f3f" text-anchor="start" textLength="28" lengthAdjust="spacingAndGlyphs" transform="rotate(-21 589 724)">45° Typ</text>
<text x="633" y="716" font-size="9.8" font-weight="normal" fill="#1f1f3f" text-anchor="start" textLength="20" lengthAdjust="spacingAndGlyphs" transform="rotate(5 633 716)">22.5°</text>
<text x="551" y="778" font-size="9.8" font-weight="normal" fill="#1f1f3f" text-anchor="start" textLength="34" lengthAdjust="spacingAndGlyphs">(10.0) Dia</text>
<text x="551" y="787" font-size="9.8" font-weight="normal" fill="#1f1f3f" text-anchor="start" textLength="17" lengthAdjust="spacingAndGlyphs">.394</text>
<text x="596" y="814" font-size="9.8" font-weight="normal" fill="#1f1f3f" text-anchor="start" textLength="30" lengthAdjust="spacingAndGlyphs">(4.5) Dia</text>
<text x="597" y="823" font-size="9.8" font-weight="normal" fill="#1f1f3f" text-anchor="start" textLength="13" lengthAdjust="spacingAndGlyphs">.177</text>
<text x="649" y="752" font-size="9.8" font-weight="normal" fill="#1f1f3f" text-anchor="start" textLength="48" lengthAdjust="spacingAndGlyphs">(1.98) Dia Typ</text>
<text x="650" y="760" font-size="9.8" font-weight="normal" fill="#1f1f3f" text-anchor="start" textLength="15" lengthAdjust="spacingAndGlyphs">.078</text>
<path d="M648,752 L645,752 L635,765" stroke="#000" stroke-width="0.9" fill="none"/>
<path d="M634.50,765.50 L635.19,761.25 L637.93,762.89 Z" fill="#000"/>
<text x="650" y="806" font-size="9.8" font-weight="normal" fill="#1f1f3f" text-anchor="start" textLength="47" lengthAdjust="spacingAndGlyphs">(1.32) Dia Typ</text>
<text x="650" y="815" font-size="9.8" font-weight="normal" fill="#1f1f3f" text-anchor="start" textLength="16" lengthAdjust="spacingAndGlyphs">.052</text>
<path d="M649,806 L645,798" stroke="#000" stroke-width="0.9" fill="none"/>
<circle cx="426.4" cy="912" r="21.8" fill="none" stroke="#000" stroke-width="0.8" stroke-dasharray="3,2.4"/>
<circle cx="426.4" cy="912" r="9.9" fill="none" stroke="#000" stroke-width="0.8" stroke-dasharray="3,2"/>
<line x1="426.4" y1="846.4" x2="426.4" y2="942.5" stroke="#000" stroke-width="1.1"/>
<line x1="395.9" y1="912" x2="456.4" y2="912" stroke="#000" stroke-width="1.1"/>
<line x1="379.73095244168786" y1="865.3309524416878" x2="446.1989898732233" y2="931.7989898732234" stroke="#000" stroke-width="0.9"/>
<line x1="426.4" y1="912" x2="450.50905623900064" y2="853.7955894517889" stroke="#000" stroke-width="0.9"/>
<path d="M383.27,868.87 A61,61 0 0 1 425.40,851.00" fill="none" stroke="#000" stroke-width="0.9"/>
<path d="M383.27,868.87 L385.21,865.02 L387.33,867.43 Z" fill="#000"/>
<path d="M428.40,851.00 A61,61 0 0 1 449.74,855.64" fill="none" stroke="#000" stroke-width="0.9"/>
<path d="M427.90,851.00 L431.87,849.32 L431.93,852.52 Z" fill="#000"/>
<path d="M449.74,855.64 L445.44,855.56 L446.68,852.61 Z" fill="#000"/>
<circle cx="426.40" cy="890.20" r="3.1" fill="#bbb" stroke="#111" stroke-width="1.2"/>
<path d="M422.80,890.20 L430.00,890.20 M426.40,886.60 L426.40,893.80" stroke="#111" stroke-width="0.9" fill="none"/>
<circle cx="441.81" cy="896.59" r="3.1" fill="#bbb" stroke="#111" stroke-width="1.2"/>
<path d="M439.21,893.99 L444.41,899.19 M439.21,899.19 L444.41,893.99" stroke="#111" stroke-width="0.9" fill="none"/>
<circle cx="448.20" cy="912.00" r="3.1" fill="#bbb" stroke="#111" stroke-width="1.2"/>
<path d="M444.60,912.00 L451.80,912.00 M448.20,908.40 L448.20,915.60" stroke="#111" stroke-width="0.9" fill="none"/>
<circle cx="441.81" cy="927.41" r="3.1" fill="#bbb" stroke="#111" stroke-width="1.2"/>
<path d="M439.21,924.81 L444.41,930.01 M439.21,930.01 L444.41,924.81" stroke="#111" stroke-width="0.9" fill="none"/>
<circle cx="426.40" cy="933.80" r="3.1" fill="#bbb" stroke="#111" stroke-width="1.2"/>
<path d="M422.80,933.80 L430.00,933.80 M426.40,930.20 L426.40,937.40" stroke="#111" stroke-width="0.9" fill="none"/>
<circle cx="410.99" cy="927.41" r="3.1" fill="#bbb" stroke="#111" stroke-width="1.2"/>
<path d="M408.39,924.81 L413.59,930.01 M408.39,930.01 L413.59,924.81" stroke="#111" stroke-width="0.9" fill="none"/>
<circle cx="404.60" cy="912.00" r="3.1" fill="#bbb" stroke="#111" stroke-width="1.2"/>
<path d="M401.00,912.00 L408.20,912.00 M404.60,908.40 L404.60,915.60" stroke="#111" stroke-width="0.9" fill="none"/>
<circle cx="410.99" cy="896.59" r="3.1" fill="#bbb" stroke="#111" stroke-width="1.2"/>
<path d="M408.39,893.99 L413.59,899.19 M408.39,899.19 L413.59,893.99" stroke="#111" stroke-width="0.9" fill="none"/>
<circle cx="431.00" cy="904.00" r="4.8" fill="#c8c8c8" stroke="#222" stroke-width="1"/>
<path d="M428.00,906.00 L433.00,901.00 M429.00,907.00 L434.00,902.00" stroke="#444" stroke-width="0.6" fill="none"/>
<circle cx="417.00" cy="908.00" r="4.8" fill="#c8c8c8" stroke="#222" stroke-width="1"/>
<path d="M414.00,910.00 L419.00,905.00 M415.00,911.00 L420.00,906.00" stroke="#444" stroke-width="0.6" fill="none"/>
<circle cx="422.40" cy="921.40" r="4.8" fill="#c8c8c8" stroke="#222" stroke-width="1"/>
<path d="M419.40,923.40 L424.40,918.40 M420.40,924.40 L425.40,919.40" stroke="#444" stroke-width="0.6" fill="none"/>
<circle cx="435.60" cy="915.00" r="4.8" fill="#c8c8c8" stroke="#222" stroke-width="1"/>
<path d="M432.60,917.00 L437.60,912.00 M433.60,918.00 L438.60,913.00" stroke="#444" stroke-width="0.6" fill="none"/>
<text x="422" y="892" font-size="5.5" font-weight="normal" fill="#445" text-anchor="start">1</text>
<text x="407" y="897" font-size="5.5" font-weight="normal" fill="#445" text-anchor="start">3</text>
<text x="443" y="899" font-size="5.5" font-weight="normal" fill="#445" text-anchor="start">2</text>
<text x="402" y="922" font-size="5.5" font-weight="normal" fill="#445" text-anchor="start">1</text>
<text x="449" y="922" font-size="5.5" font-weight="normal" fill="#445" text-anchor="start">1</text>
<text x="411" y="934" font-size="5.5" font-weight="normal" fill="#445" text-anchor="start">2</text>
<text x="427" y="941" font-size="5.5" font-weight="normal" fill="#445" text-anchor="start">1</text>
<text x="440" y="933" font-size="5.5" font-weight="normal" fill="#445" text-anchor="start">3</text>
<text x="437" y="908" font-size="5.5" font-weight="normal" fill="#445" text-anchor="start">A</text>
<text x="411" y="905" font-size="5.5" font-weight="normal" fill="#445" text-anchor="start">C</text>
<text x="416" y="926" font-size="5.5" font-weight="normal" fill="#445" text-anchor="start">B</text>
<text x="437" y="923" font-size="5.5" font-weight="normal" fill="#445" text-anchor="start">D</text>
<line x1="361.2" y1="890.2" x2="422.4" y2="890.2" stroke="#000" stroke-width="1.1"/>
<line x1="361.2" y1="933.8" x2="422.4" y2="933.8" stroke="#000" stroke-width="1.1"/>
<line x1="386.79999999999995" y1="902.4" x2="426.4" y2="902.4" stroke="#000" stroke-width="1.1"/>
<line x1="386.79999999999995" y1="922" x2="426.4" y2="922" stroke="#000" stroke-width="1.1"/>
<line x1="364.7" y1="904" x2="364.7" y2="890.6" stroke="#000" stroke-width="0.8"/>
<path d="M364.70,890.60 L366.20,894.60 L363.20,894.60 Z" fill="#000"/>
<line x1="364.7" y1="924" x2="364.7" y2="933.4" stroke="#000" stroke-width="0.8"/>
<path d="M364.70,933.40 L363.20,929.40 L366.20,929.40 Z" fill="#000"/>
<line x1="390.59999999999997" y1="895" x2="390.59999999999997" y2="902" stroke="#000" stroke-width="0.8"/>
<path d="M390.60,902.00 L389.10,898.00 L392.10,898.00 Z" fill="#000"/>
<line x1="390.59999999999997" y1="928" x2="390.59999999999997" y2="922.4" stroke="#000" stroke-width="0.8"/>
<path d="M390.60,922.40 L392.10,926.40 L389.10,926.40 Z" fill="#000"/>
<path d="M390.59999999999997,928 L390.59999999999997,949 L396.59999999999997,949" stroke="#000" stroke-width="0.9" fill="none"/>
<line x1="426.4" y1="912" x2="489" y2="941" stroke="#000" stroke-width="0.9"/>
<path d="M452.40,853.00 A65,65 0 0 1 489,936" fill="none" stroke="#000" stroke-width="0.9"/>
<path d="M489.00,937.00 L489.00,932.69 L491.97,933.88 Z" fill="#000"/>
<text x="389" y="859" font-size="9.8" font-weight="normal" fill="#1f1f3f" text-anchor="start" textLength="28" lengthAdjust="spacingAndGlyphs" transform="rotate(-21 389 859)">45° Typ</text>
<text x="432" y="852" font-size="9.8" font-weight="normal" fill="#1f1f3f" text-anchor="start" textLength="20" lengthAdjust="spacingAndGlyphs" transform="rotate(5 432 852)">22.5°</text>
<text x="464" y="852.5" font-size="9.8" font-weight="normal" fill="#1f1f3f" text-anchor="start" textLength="29" lengthAdjust="spacingAndGlyphs" transform="rotate(50 464 852.5)">90° Typ</text>
<text x="350" y="912" font-size="9.8" font-weight="normal" fill="#1f1f3f" text-anchor="start" textLength="34" lengthAdjust="spacingAndGlyphs">(10.0) Dia</text>
<text x="350" y="921" font-size="9.8" font-weight="normal" fill="#1f1f3f" text-anchor="start" textLength="17" lengthAdjust="spacingAndGlyphs">.394</text>
<text x="396" y="949" font-size="9.8" font-weight="normal" fill="#1f1f3f" text-anchor="start" textLength="30" lengthAdjust="spacingAndGlyphs">(4.5) Dia</text>
<text x="397" y="958" font-size="9.8" font-weight="normal" fill="#1f1f3f" text-anchor="start" textLength="13" lengthAdjust="spacingAndGlyphs">.177</text>
<rect x="448" y="879" width="52" height="10" rx="0" stroke="#000" stroke-width="0" fill="#fff"/>
<text x="449" y="888" font-size="9.8" font-weight="normal" fill="#1f1f3f" text-anchor="start" textLength="49" lengthAdjust="spacingAndGlyphs">(1.98) Dia Typ</text>
<text x="451" y="897" font-size="9.8" font-weight="normal" fill="#1f1f3f" text-anchor="start" textLength="15" lengthAdjust="spacingAndGlyphs">.078</text>
<path d="M448,887 L445,887 L435,899" stroke="#000" stroke-width="0.9" fill="none"/>
<path d="M434.50,899.50 L435.19,895.25 L437.93,896.89 Z" fill="#000"/>
<text x="450" y="951" font-size="9.8" font-weight="normal" fill="#1f1f3f" text-anchor="start" textLength="48" lengthAdjust="spacingAndGlyphs">(1.32) Dia Typ</text>
<text x="450" y="959" font-size="9.8" font-weight="normal" fill="#1f1f3f" text-anchor="start" textLength="16" lengthAdjust="spacingAndGlyphs">.052</text>
<path d="M449,950 L443,931" stroke="#000" stroke-width="0.9" fill="none"/>
<text x="18" y="18" font-size="17" font-weight="normal" fill="#111122" text-anchor="start" textLength="153" lengthAdjust="spacingAndGlyphs" stroke="#111122" stroke-width="0.9">MRY • Turret Terminals</text>
<text x="360.5" y="17.8" font-size="17" font-weight="normal" fill="#111122" text-anchor="start" textLength="72.7" lengthAdjust="spacingAndGlyphs" stroke="#111122" stroke-width="0.9">Single Pole</text>
<text x="18.2" y="355.3" font-size="17" font-weight="normal" fill="#111122" text-anchor="start" textLength="184.2" lengthAdjust="spacingAndGlyphs" stroke="#111122" stroke-width="0.9">MRT • Solder Lug Terminals</text>
<text x="358" y="355.3" font-size="17" font-weight="normal" fill="#111122" text-anchor="start" textLength="80" lengthAdjust="spacingAndGlyphs" stroke="#111122" stroke-width="0.9">Double Pole</text>
<text x="21.8" y="320" font-size="14.3" font-weight="normal" fill="#d42a40" text-anchor="start" textLength="45.6" lengthAdjust="spacingAndGlyphs" stroke="#d42a40" stroke-width="0.8">MRY106</text>
<text x="21.9" y="637.8" font-size="14.3" font-weight="normal" fill="#d42a40" text-anchor="start" textLength="37.2" lengthAdjust="spacingAndGlyphs" stroke="#d42a40" stroke-width="0.8">MRT22</text>
<line x1="1.5" y1="328.2" x2="793.5" y2="328.2" stroke="#111" stroke-width="1.4"/>
<rect x="1.2" y="649.8" width="792.7" height="34" rx="0" stroke="#000" stroke-width="0" fill="#e1e1e1"/>
<clipPath id="bclip"><rect x="1.2" y="649.8" width="792.7" height="34"/></clipPath>
<g clip-path="url(#bclip)" font-family="Liberation Serif" fill="#d6d6d6" font-size="13">
<text x="210" y="690" transform="rotate(-28 210 690)">WWW.100Y.COM.TW</text>
<text x="330" y="672" transform="rotate(-28 330 672)">WWW.100Y.COM.TW</text>
<text x="560" y="700" transform="rotate(-28 560 700)">WWW.100Y.COM.TW</text>
<text x="700" y="675" transform="rotate(-28 700 675)">WWW.100Y.COM.TW</text>
<text x="740" y="700" transform="rotate(-28 740 700)">WWW.100Y.COM.TW</text>
</g>
<text x="142.6" y="673.9" font-size="19.6" font-weight="normal" fill="#111122" text-anchor="start" textLength="509.5" lengthAdjust="spacingAndGlyphs" stroke="#111122" stroke-width="1.1">PC FOOTPRINTS FOR MRX SINGLE, DOUBLE, &amp; FOUR POLE</text>
<text x="38.7" y="745.5" font-size="15" font-weight="normal" fill="#1f1f3f" text-anchor="start" textLength="63.3" lengthAdjust="spacingAndGlyphs">Single Pole</text>
<text x="447.2" y="744.5" font-size="15" font-weight="normal" fill="#1f1f3f" text-anchor="start" textLength="68" lengthAdjust="spacingAndGlyphs">Double Pole</text>
<text x="269.9" y="879.5" font-size="15" font-weight="normal" fill="#1f1f3f" text-anchor="start" textLength="52.7" lengthAdjust="spacingAndGlyphs">Four Pole</text>
</svg>
</body></html>
